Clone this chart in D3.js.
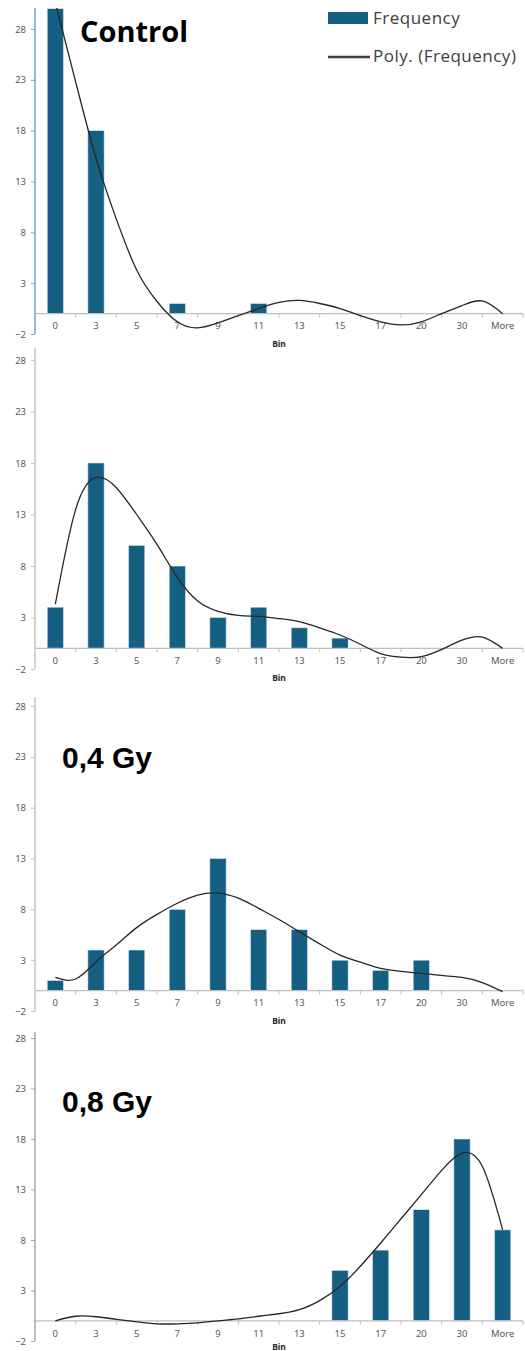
<!DOCTYPE html>
<html><head><meta charset="utf-8">
<script src="https://cdn.jsdelivr.net/npm/d3@7"></script>
<style>
html,body{margin:0;padding:0;background:#fff;}
svg{display:block;}
</style></head>
<body>
<script>
// ---------- DATA ----------
const bins = ["0","3","5","7","9","11","13","15","17","20","30","More"];
const yTicks = [-2, 3, 8, 13, 18, 23, 28];
const freqControl = [30, 18, 0, 1, 0, 1, 0, 0, 0, 0, 0, 0];
const freqPanel2  = [4, 18, 10, 8, 3, 4, 2, 1, 0, 0, 0, 0];
const freq04Gy    = [1, 4, 4, 8, 13, 6, 6, 3, 2, 3, 0, 0];
const freq08Gy    = [0, 0, 0, 0, 0, 0, 0, 5, 7, 11, 18, 9];
// trendline (Poly.), positions in category-index units
const trendPos = [0,0.5,1,1.5,2,2.5,3,3.5,4,4.5,5,5.5,6,6.5,7,7.5,8,8.5,9,9.5,10,10.5,11];
const trendControl = [30.6,22.8,15.3,9.3,4.3,1.2,-0.8,-1.4,-0.9,-0.2,0.5,1.1,1.3,1.0,0.5,-0.2,-0.8,-1.1,-0.8,0.0,0.8,1.25,0.0];
const trendPanel2  = [4.3,13.5,16.6,15.6,13.0,10.1,6.9,4.6,3.6,3.2,3.1,2.9,2.6,2.0,1.3,0.4,-0.5,-0.85,-0.8,-0.1,0.8,1.1,0.0];
const trend04Gy    = [1.3,1.15,2.85,4.5,6.2,7.5,8.6,9.4,9.6,9.1,8.1,7.0,5.8,4.6,3.5,2.8,2.2,1.9,1.7,1.5,1.3,0.8,-0.1];
const trend08Gy    = [0.0,0.45,0.4,0.15,-0.1,-0.3,-0.3,-0.2,0.0,0.2,0.45,0.7,1.1,2.0,3.4,5.4,7.7,10.1,12.5,14.9,16.6,15.3,9.0];
const titles = ["Control", "", "0,4 Gy", "0,8 Gy"];
const legendLabels = ["Frequency", "Poly. (Frequency)"];
const xTitle = "Bin";

// ---------- LAYOUT ----------
const W = 525, H = 1351;
const BAR = "#156082";
const panels = [
  {values: freqControl, trend: trendControl, title: titles[0], top: 8,    y28: 29,  yMin: 334,  axisColor: "#6fa6cf", titleFont: "'Open Sans', sans-serif", titleSize: 29, tx: 80, ty: 42},
  {values: freqPanel2,  trend: trendPanel2,  title: titles[1], top: 348,  y28: 360, yMin: 669,  axisColor: "#c4c4c4"},
  {values: freq04Gy,    trend: trend04Gy,    title: titles[2], top: 697,  y28: 706, yMin: 1011, axisColor: "#c4c4c4", titleFont: "'Liberation Sans', Arial, sans-serif", titleSize: 30, tx: 62, ty: 768},
  {values: freq08Gy,    trend: trend08Gy,    title: titles[3], top: 1032, y28: 1038, yMin: 1341, axisColor: "#a8a8a8", titleFont: "'Liberation Sans', Arial, sans-serif", titleSize: 30, tx: 62, ty: 1112}
];

const svg = d3.select("body").append("svg").attr("width", W).attr("height", H);

const x = d3.scaleBand().domain(bins).range([35, 523]).paddingInner(0.6).paddingOuter(0.3);
const xi = d3.scaleLinear().domain([0, bins.length - 1])
  .range([x(bins[0]) + x.bandwidth()/2, x(bins[bins.length-1]) + x.bandwidth()/2]);

panels.forEach((p, pi) => {
  const y = d3.scaleLinear().domain([-2, 28]).range([p.yMin, p.y28]);
  const g = svg.append("g");
  const clipId = "clip" + pi;
  svg.append("clipPath").attr("id", clipId).append("rect")
    .attr("x", 35).attr("y", p.top).attr("width", W - 35).attr("height", p.yMin - p.top);

  // bars
  g.append("g").attr("clip-path", `url(#${clipId})`).selectAll("rect")
    .data(p.values.map((v, i) => ({bin: bins[i], v})).filter(d => d.v > 0))
    .join("rect")
    .attr("x", d => x(d.bin)).attr("width", x.bandwidth())
    .attr("y", d => y(d.v)).attr("height", d => y(0) - y(d.v))
    .attr("fill", BAR).attr("stroke", "#dbe7ee").attr("stroke-width", 0.6);

  // x axis line at 0
  g.append("line").attr("x1", 35).attr("x2", 523).attr("y1", y(0)).attr("y2", y(0))
    .attr("stroke", "#bfbfbf").attr("stroke-width", 1.2);
  // tick marks between categories
  const bounds = d3.range(1, bins.length + 1).map(i => x.range()[0] + i * x.step());
  g.selectAll("line.xt").data(bounds).join("line").attr("class", "xt")
    .attr("x1", d => d).attr("x2", d => d).attr("y1", y(0)).attr("y2", y(0) + 4)
    .attr("stroke", "#bfbfbf").attr("stroke-width", 1);
  // x labels
  const xa = g.append("g").attr("transform", `translate(0,${y(0)})`)
    .call(d3.axisBottom(x).tickSize(0).tickPadding(9));
  xa.select(".domain").remove();
  xa.selectAll("text").attr("fill", "#595959").attr("font-size", 9.5)
    .attr("font-family", "'Noto Sans', sans-serif");
  g.append("text").attr("x", 279).attr("y", Math.min(y(0) + 33, H - 1)).attr("text-anchor", "middle")
    .attr("font-family", "'Noto Sans', sans-serif").attr("font-weight", "bold")
    .attr("font-size", 8.5).attr("fill", "#262626").text(xTitle);

  // y axis
  const ya = g.append("g").attr("transform", "translate(35,0)")
    .call(d3.axisLeft(y).tickValues(yTicks).tickSize(4).tickPadding(5).tickFormat(d3.format("d")));
  ya.select(".domain").remove();
  ya.selectAll("line").attr("stroke", p.axisColor);
  ya.selectAll("text").attr("fill", "#595959").attr("font-size", 9.5)
    .attr("font-family", "'Noto Sans', sans-serif");
  g.append("line").attr("x1", 35).attr("x2", 35).attr("y1", p.top).attr("y2", y(-2))
    .attr("stroke", p.axisColor).attr("stroke-width", 1.5);

  // trendline
  const line = d3.line().x(d => xi(d[0])).y(d => y(d[1])).curve(d3.curveNatural);
  g.append("path").attr("clip-path", `url(#${clipId})`)
    .datum(trendPos.map((t, i) => [t, p.trend[i]]))
    .attr("d", line).attr("fill", "none").attr("stroke", "#262626").attr("stroke-width", 1.3);

  // title
  if (p.title) {
    g.append("text").attr("x", p.tx).attr("y", p.ty)
      .attr("font-family", p.titleFont).attr("font-weight", "bold")
      .attr("font-size", p.titleSize).attr("fill", "#000").text(p.title);
  }
});

// legend
const lg = svg.append("g");
lg.append("rect").attr("x", 328).attr("y", 12).attr("width", 40).attr("height", 12).attr("fill", BAR);
lg.append("text").attr("x", 373).attr("y", 24).attr("font-family", "'Open Sans', sans-serif")
  .attr("font-size", 17).attr("letter-spacing", 0.5).attr("fill", "#404040").text(legendLabels[0]);
lg.append("line").attr("x1", 328).attr("x2", 370).attr("y1", 57).attr("y2", 57)
  .attr("stroke", "#404040").attr("stroke-width", 2.4);
lg.append("text").attr("x", 373).attr("y", 62).attr("font-family", "'Open Sans', sans-serif")
  .attr("font-size", 17).attr("letter-spacing", 0.5).attr("fill", "#404040").text(legendLabels[1]);
</script>
</body></html>
